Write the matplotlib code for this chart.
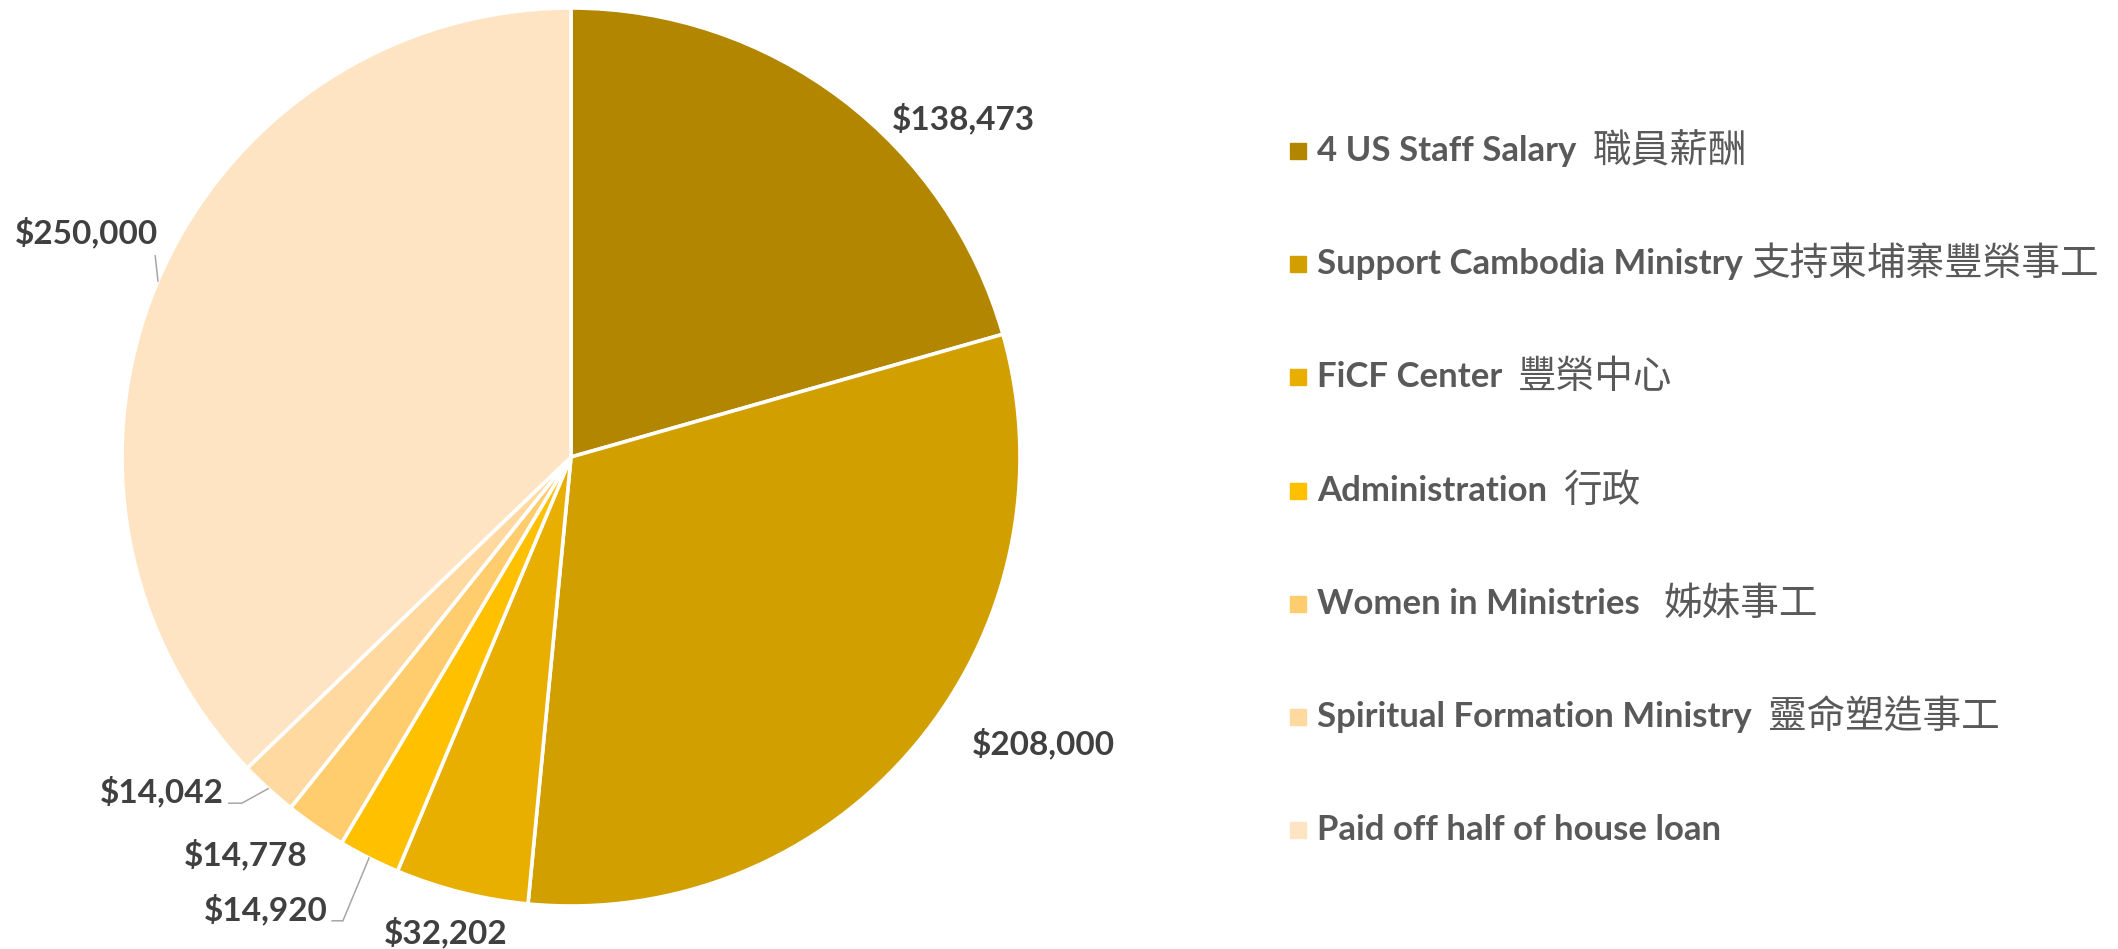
import numpy as np
import matplotlib
matplotlib.use("Agg")
import matplotlib.pyplot as plt
from matplotlib.patches import Rectangle

# data
categories = ["4 US Staff Salary", "Support Cambodia Ministry", "FiCF Center",
              "Administration", "Women in Ministries",
              "Spiritual Formation Ministry", "Paid off half of house loan"]
categories_zh = ["職員薪酬", "支持柬埔寨豐榮事工", "豐榮中心", "行政",
                 "姊妹事工", "靈命塑造事工", ""]
amounts = [138473, 208000, 32202, 14920, 14778, 14042, 250000]
colors = ["#B38600", "#D19F00", "#E8AF00", "#FFC000",
          "#FFCC6E", "#FFD9A0", "#FFE4C4"]

# layout (pie has radius 1, centred at 0,0)
label_pos = [(0.875, 0.755), (1.053, -0.637), (-0.278, -1.058), (-0.679, -1.007),
             (-0.724, -0.886), (-0.911, -0.746), (-1.080, 0.499)]
leaders = {3: [(-0.532, -1.033), (-0.508, -1.033)],
           5: [(-0.762, -0.771), (-0.733, -0.771)],
           6: [(-0.926, 0.448)]}
gaps = [2, 1, 2, 2, 3, 2, 0]

W, H = 2118, 949
cx, cy, r = 571, 457, 449

fig = plt.figure(figsize=(W / 100, H / 100), dpi=100)
ax = fig.add_axes([0, 0, 1, 1])

wedges, _ = ax.pie(amounts, colors=colors, startangle=90, counterclock=False,
                   wedgeprops=dict(edgecolor="white", linewidth=2.6))
ax.set_aspect("auto")
ax.set_xlim(-cx / r, (W - cx) / r)
ax.set_ylim(-(H - cy) / r, cy / r)
ax.axis("off")

lab_font = dict(family="Lato", fontweight="bold", fontsize=24, color="#404040")
for i, (w, v) in enumerate(zip(wedges, amounts)):
    x, y = label_pos[i]
    ax.text(x, y, f"${v:,}", ha="center", va="center", **lab_font)
    if i in leaders:
        mid = np.deg2rad((w.theta1 + w.theta2) / 2)
        pts = leaders[i] + [(np.cos(mid), np.sin(mid))]
        ax.plot([p[0] for p in pts], [p[1] for p in pts], color="#A6A6A6", lw=1.1)

# legend
row0, step = 151, 113.2
texts = []
for i, name in enumerate(categories):
    yc = row0 + i * step
    fig.patches.append(Rectangle((1290 / W, 1 - (yc + 8) / H), 16 / W, 16 / H,
                                 transform=fig.transFigure, color=colors[i]))
    t = fig.text(1317 / W, 1 - (yc + 10) / H, name, ha="left", va="baseline",
                 family="Lato", fontweight="bold", fontsize=25, color="#595959")
    texts.append(t)

fig.canvas.draw()
renderer = fig.canvas.get_renderer()
for i, t in enumerate(texts):
    if not categories_zh[i]:
        continue
    bb = t.get_window_extent(renderer)
    x0 = bb.x1 + gaps[i] * 7.5 + 1
    yc = row0 + i * step
    fig.text(x0 / W, 1 - (yc + 11) / H, categories_zh[i], ha="left", va="baseline",
             family="Noto Sans CJK TC", fontsize=27.8, color="#595959")

fig.savefig("out.png", dpi=100)
